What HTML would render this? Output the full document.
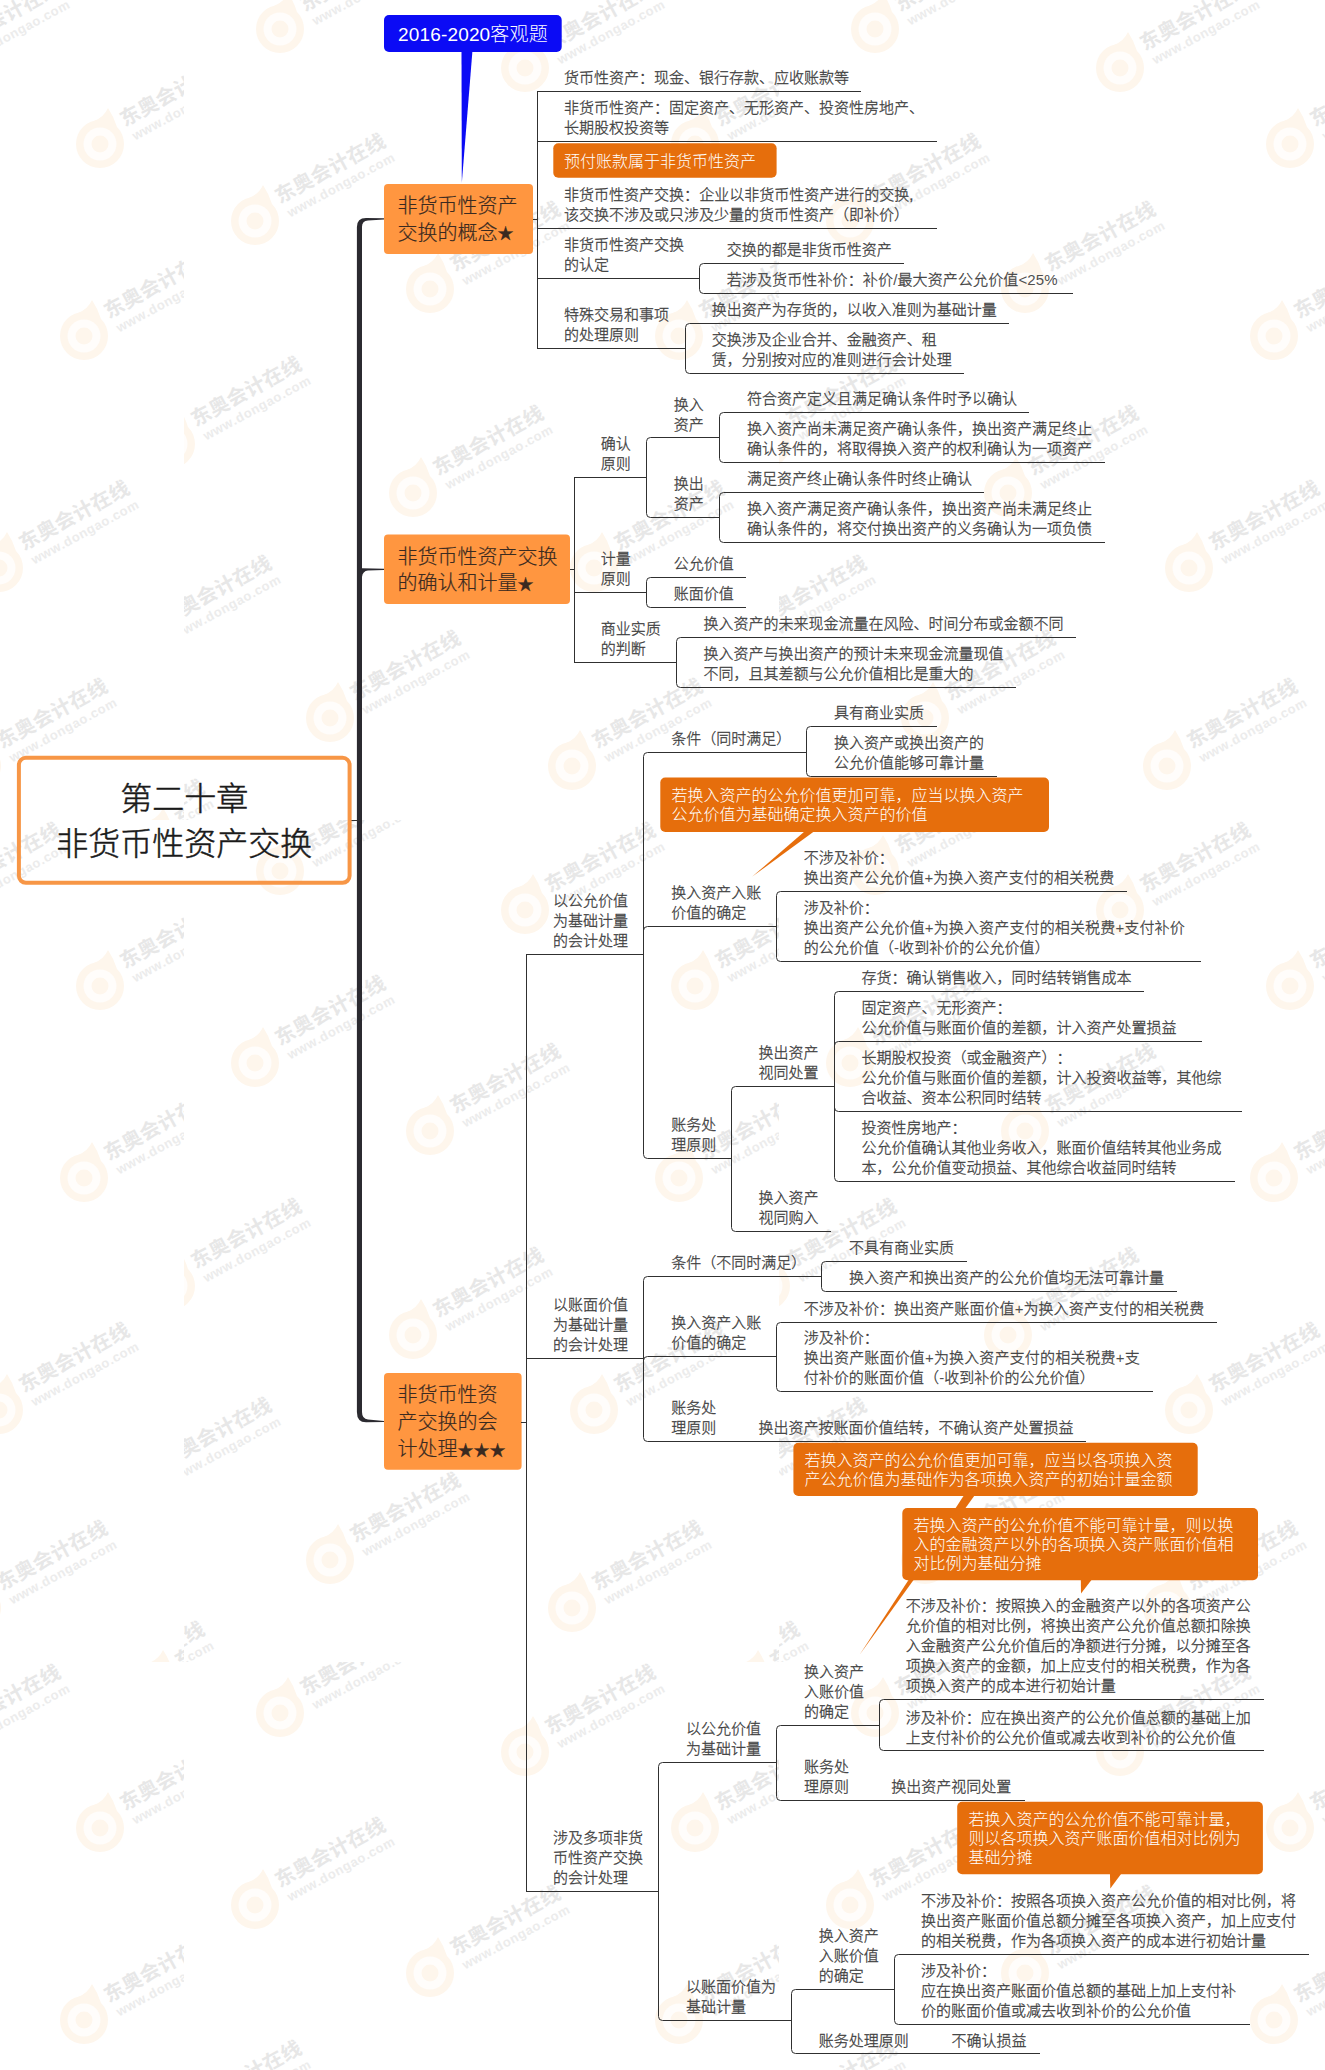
<!DOCTYPE html>
<html lang="zh-CN"><head><meta charset="utf-8"><title>第二十章 非货币性资产交换</title>
<style>
html,body{margin:0;padding:0;background:#fff;}
svg{display:block;font-family:"Liberation Sans", "Noto Sans CJK SC", sans-serif;}
svg text{white-space:pre;font-weight:300;text-spacing-trim:space-all;font-kerning:none;}
.b{stroke:#404040;stroke-width:0.3px;}
.a{stroke:none;fill:#505050;}
.t{stroke:#1a1a1a;stroke-width:0.5px;}
.m{stroke:#3a2a20;stroke-width:0.2px;}
</style></head><body>
<svg width="1325" height="2070" viewBox="0 0 1325 2070" shape-rendering="auto">
<rect width="1325" height="2070" fill="#fff"/>
<g id="wm"><svg x="-411" y="-22" width="595" height="842" viewBox="0 0 595 842" overflow="hidden"><g transform="translate(341,90)"><circle r="24" fill="#fef6ec"/><path d="M-6,-23 Q4,-27 8,-36 Q14,-27 17,-17 Z" fill="#fef6ec"/><circle r="16.5" fill="#fffdfb"/><circle r="8.5" fill="#fef6ec"/><g transform="rotate(-28.5)"><text x="30" y="-3.4" font-size="20" textLength="122" fill="#e7e7e7" style="font-weight:700">东奥会计在线</text><text x="32.5" y="13.8" font-size="13" textLength="120" fill="#ececec" style="font-weight:700">www.dongao.com</text></g></g><g transform="translate(246,311)"><circle r="24" fill="#fef6ec"/><path d="M-6,-23 Q4,-27 8,-36 Q14,-27 17,-17 Z" fill="#fef6ec"/><circle r="16.5" fill="#fffdfb"/><circle r="8.5" fill="#fef6ec"/><g transform="rotate(-28.5)"><text x="30" y="-3.4" font-size="20" textLength="122" fill="#e7e7e7" style="font-weight:700">东奥会计在线</text><text x="32.5" y="13.8" font-size="13" textLength="120" fill="#ececec" style="font-weight:700">www.dongao.com</text></g></g><g transform="translate(229,515)"><circle r="24" fill="#fef6ec"/><path d="M-6,-23 Q4,-27 8,-36 Q14,-27 17,-17 Z" fill="#fef6ec"/><circle r="16.5" fill="#fffdfb"/><circle r="8.5" fill="#fef6ec"/><g transform="rotate(-28.5)"><text x="30" y="-3.4" font-size="20" textLength="122" fill="#e7e7e7" style="font-weight:700">东奥会计在线</text><text x="32.5" y="13.8" font-size="13" textLength="120" fill="#ececec" style="font-weight:700">www.dongao.com</text></g></g><g transform="translate(410,590)"><circle r="24" fill="#fef6ec"/><path d="M-6,-23 Q4,-27 8,-36 Q14,-27 17,-17 Z" fill="#fef6ec"/><circle r="16.5" fill="#fffdfb"/><circle r="8.5" fill="#fef6ec"/><g transform="rotate(-28.5)"><text x="30" y="-3.4" font-size="20" textLength="122" fill="#e7e7e7" style="font-weight:700">东奥会计在线</text><text x="32.5" y="13.8" font-size="13" textLength="120" fill="#ececec" style="font-weight:700">www.dongao.com</text></g></g><g transform="translate(388,788)"><circle r="24" fill="#fef6ec"/><path d="M-6,-23 Q4,-27 8,-36 Q14,-27 17,-17 Z" fill="#fef6ec"/><circle r="16.5" fill="#fffdfb"/><circle r="8.5" fill="#fef6ec"/><g transform="rotate(-28.5)"><text x="30" y="-3.4" font-size="20" textLength="122" fill="#e7e7e7" style="font-weight:700">东奥会计在线</text><text x="32.5" y="13.8" font-size="13" textLength="120" fill="#ececec" style="font-weight:700">www.dongao.com</text></g></g><g transform="translate(511,166)"><circle r="24" fill="#fef6ec"/><path d="M-6,-23 Q4,-27 8,-36 Q14,-27 17,-17 Z" fill="#fef6ec"/><circle r="16.5" fill="#fffdfb"/><circle r="8.5" fill="#fef6ec"/><g transform="rotate(-28.5)"><text x="30" y="-3.4" font-size="20" textLength="122" fill="#e7e7e7" style="font-weight:700">东奥会计在线</text><text x="32.5" y="13.8" font-size="13" textLength="120" fill="#ececec" style="font-weight:700">www.dongao.com</text></g></g><g transform="translate(495,358)"><circle r="24" fill="#fef6ec"/><path d="M-6,-23 Q4,-27 8,-36 Q14,-27 17,-17 Z" fill="#fef6ec"/><circle r="16.5" fill="#fffdfb"/><circle r="8.5" fill="#fef6ec"/><g transform="rotate(-28.5)"><text x="30" y="-3.4" font-size="20" textLength="122" fill="#e7e7e7" style="font-weight:700">东奥会计在线</text><text x="32.5" y="13.8" font-size="13" textLength="120" fill="#ececec" style="font-weight:700">www.dongao.com</text></g></g><g transform="translate(566,866)"><circle r="24" fill="#fef6ec"/><path d="M-6,-23 Q4,-27 8,-36 Q14,-27 17,-17 Z" fill="#fef6ec"/><circle r="16.5" fill="#fffdfb"/><circle r="8.5" fill="#fef6ec"/><g transform="rotate(-28.5)"><text x="30" y="-3.4" font-size="20" textLength="122" fill="#e7e7e7" style="font-weight:700">东奥会计在线</text><text x="32.5" y="13.8" font-size="13" textLength="120" fill="#ececec" style="font-weight:700">www.dongao.com</text></g></g></svg><svg x="-411" y="820" width="595" height="842" viewBox="0 0 595 842" overflow="hidden"><g transform="translate(341,90)"><circle r="24" fill="#fef6ec"/><path d="M-6,-23 Q4,-27 8,-36 Q14,-27 17,-17 Z" fill="#fef6ec"/><circle r="16.5" fill="#fffdfb"/><circle r="8.5" fill="#fef6ec"/><g transform="rotate(-28.5)"><text x="30" y="-3.4" font-size="20" textLength="122" fill="#e7e7e7" style="font-weight:700">东奥会计在线</text><text x="32.5" y="13.8" font-size="13" textLength="120" fill="#ececec" style="font-weight:700">www.dongao.com</text></g></g><g transform="translate(246,311)"><circle r="24" fill="#fef6ec"/><path d="M-6,-23 Q4,-27 8,-36 Q14,-27 17,-17 Z" fill="#fef6ec"/><circle r="16.5" fill="#fffdfb"/><circle r="8.5" fill="#fef6ec"/><g transform="rotate(-28.5)"><text x="30" y="-3.4" font-size="20" textLength="122" fill="#e7e7e7" style="font-weight:700">东奥会计在线</text><text x="32.5" y="13.8" font-size="13" textLength="120" fill="#ececec" style="font-weight:700">www.dongao.com</text></g></g><g transform="translate(229,515)"><circle r="24" fill="#fef6ec"/><path d="M-6,-23 Q4,-27 8,-36 Q14,-27 17,-17 Z" fill="#fef6ec"/><circle r="16.5" fill="#fffdfb"/><circle r="8.5" fill="#fef6ec"/><g transform="rotate(-28.5)"><text x="30" y="-3.4" font-size="20" textLength="122" fill="#e7e7e7" style="font-weight:700">东奥会计在线</text><text x="32.5" y="13.8" font-size="13" textLength="120" fill="#ececec" style="font-weight:700">www.dongao.com</text></g></g><g transform="translate(410,590)"><circle r="24" fill="#fef6ec"/><path d="M-6,-23 Q4,-27 8,-36 Q14,-27 17,-17 Z" fill="#fef6ec"/><circle r="16.5" fill="#fffdfb"/><circle r="8.5" fill="#fef6ec"/><g transform="rotate(-28.5)"><text x="30" y="-3.4" font-size="20" textLength="122" fill="#e7e7e7" style="font-weight:700">东奥会计在线</text><text x="32.5" y="13.8" font-size="13" textLength="120" fill="#ececec" style="font-weight:700">www.dongao.com</text></g></g><g transform="translate(388,788)"><circle r="24" fill="#fef6ec"/><path d="M-6,-23 Q4,-27 8,-36 Q14,-27 17,-17 Z" fill="#fef6ec"/><circle r="16.5" fill="#fffdfb"/><circle r="8.5" fill="#fef6ec"/><g transform="rotate(-28.5)"><text x="30" y="-3.4" font-size="20" textLength="122" fill="#e7e7e7" style="font-weight:700">东奥会计在线</text><text x="32.5" y="13.8" font-size="13" textLength="120" fill="#ececec" style="font-weight:700">www.dongao.com</text></g></g><g transform="translate(511,166)"><circle r="24" fill="#fef6ec"/><path d="M-6,-23 Q4,-27 8,-36 Q14,-27 17,-17 Z" fill="#fef6ec"/><circle r="16.5" fill="#fffdfb"/><circle r="8.5" fill="#fef6ec"/><g transform="rotate(-28.5)"><text x="30" y="-3.4" font-size="20" textLength="122" fill="#e7e7e7" style="font-weight:700">东奥会计在线</text><text x="32.5" y="13.8" font-size="13" textLength="120" fill="#ececec" style="font-weight:700">www.dongao.com</text></g></g><g transform="translate(495,358)"><circle r="24" fill="#fef6ec"/><path d="M-6,-23 Q4,-27 8,-36 Q14,-27 17,-17 Z" fill="#fef6ec"/><circle r="16.5" fill="#fffdfb"/><circle r="8.5" fill="#fef6ec"/><g transform="rotate(-28.5)"><text x="30" y="-3.4" font-size="20" textLength="122" fill="#e7e7e7" style="font-weight:700">东奥会计在线</text><text x="32.5" y="13.8" font-size="13" textLength="120" fill="#ececec" style="font-weight:700">www.dongao.com</text></g></g><g transform="translate(566,866)"><circle r="24" fill="#fef6ec"/><path d="M-6,-23 Q4,-27 8,-36 Q14,-27 17,-17 Z" fill="#fef6ec"/><circle r="16.5" fill="#fffdfb"/><circle r="8.5" fill="#fef6ec"/><g transform="rotate(-28.5)"><text x="30" y="-3.4" font-size="20" textLength="122" fill="#e7e7e7" style="font-weight:700">东奥会计在线</text><text x="32.5" y="13.8" font-size="13" textLength="120" fill="#ececec" style="font-weight:700">www.dongao.com</text></g></g></svg><svg x="-411" y="1662" width="595" height="842" viewBox="0 0 595 842" overflow="hidden"><g transform="translate(341,90)"><circle r="24" fill="#fef6ec"/><path d="M-6,-23 Q4,-27 8,-36 Q14,-27 17,-17 Z" fill="#fef6ec"/><circle r="16.5" fill="#fffdfb"/><circle r="8.5" fill="#fef6ec"/><g transform="rotate(-28.5)"><text x="30" y="-3.4" font-size="20" textLength="122" fill="#e7e7e7" style="font-weight:700">东奥会计在线</text><text x="32.5" y="13.8" font-size="13" textLength="120" fill="#ececec" style="font-weight:700">www.dongao.com</text></g></g><g transform="translate(246,311)"><circle r="24" fill="#fef6ec"/><path d="M-6,-23 Q4,-27 8,-36 Q14,-27 17,-17 Z" fill="#fef6ec"/><circle r="16.5" fill="#fffdfb"/><circle r="8.5" fill="#fef6ec"/><g transform="rotate(-28.5)"><text x="30" y="-3.4" font-size="20" textLength="122" fill="#e7e7e7" style="font-weight:700">东奥会计在线</text><text x="32.5" y="13.8" font-size="13" textLength="120" fill="#ececec" style="font-weight:700">www.dongao.com</text></g></g><g transform="translate(229,515)"><circle r="24" fill="#fef6ec"/><path d="M-6,-23 Q4,-27 8,-36 Q14,-27 17,-17 Z" fill="#fef6ec"/><circle r="16.5" fill="#fffdfb"/><circle r="8.5" fill="#fef6ec"/><g transform="rotate(-28.5)"><text x="30" y="-3.4" font-size="20" textLength="122" fill="#e7e7e7" style="font-weight:700">东奥会计在线</text><text x="32.5" y="13.8" font-size="13" textLength="120" fill="#ececec" style="font-weight:700">www.dongao.com</text></g></g><g transform="translate(511,166)"><circle r="24" fill="#fef6ec"/><path d="M-6,-23 Q4,-27 8,-36 Q14,-27 17,-17 Z" fill="#fef6ec"/><circle r="16.5" fill="#fffdfb"/><circle r="8.5" fill="#fef6ec"/><g transform="rotate(-28.5)"><text x="30" y="-3.4" font-size="20" textLength="122" fill="#e7e7e7" style="font-weight:700">东奥会计在线</text><text x="32.5" y="13.8" font-size="13" textLength="120" fill="#ececec" style="font-weight:700">www.dongao.com</text></g></g><g transform="translate(495,358)"><circle r="24" fill="#fef6ec"/><path d="M-6,-23 Q4,-27 8,-36 Q14,-27 17,-17 Z" fill="#fef6ec"/><circle r="16.5" fill="#fffdfb"/><circle r="8.5" fill="#fef6ec"/><g transform="rotate(-28.5)"><text x="30" y="-3.4" font-size="20" textLength="122" fill="#e7e7e7" style="font-weight:700">东奥会计在线</text><text x="32.5" y="13.8" font-size="13" textLength="120" fill="#ececec" style="font-weight:700">www.dongao.com</text></g></g></svg><svg x="184" y="-22" width="595" height="842" viewBox="0 0 595 842" overflow="hidden"><g transform="translate(96,51)"><circle r="24" fill="#fef6ec"/><path d="M-6,-23 Q4,-27 8,-36 Q14,-27 17,-17 Z" fill="#fef6ec"/><circle r="16.5" fill="#fffdfb"/><circle r="8.5" fill="#fef6ec"/><g transform="rotate(-28.5)"><text x="30" y="-3.4" font-size="20" textLength="122" fill="#e7e7e7" style="font-weight:700">东奥会计在线</text><text x="32.5" y="13.8" font-size="13" textLength="120" fill="#ececec" style="font-weight:700">www.dongao.com</text></g></g><g transform="translate(341,90)"><circle r="24" fill="#fef6ec"/><path d="M-6,-23 Q4,-27 8,-36 Q14,-27 17,-17 Z" fill="#fef6ec"/><circle r="16.5" fill="#fffdfb"/><circle r="8.5" fill="#fef6ec"/><g transform="rotate(-28.5)"><text x="30" y="-3.4" font-size="20" textLength="122" fill="#e7e7e7" style="font-weight:700">东奥会计在线</text><text x="32.5" y="13.8" font-size="13" textLength="120" fill="#ececec" style="font-weight:700">www.dongao.com</text></g></g><g transform="translate(71,243)"><circle r="24" fill="#fef6ec"/><path d="M-6,-23 Q4,-27 8,-36 Q14,-27 17,-17 Z" fill="#fef6ec"/><circle r="16.5" fill="#fffdfb"/><circle r="8.5" fill="#fef6ec"/><g transform="rotate(-28.5)"><text x="30" y="-3.4" font-size="20" textLength="122" fill="#e7e7e7" style="font-weight:700">东奥会计在线</text><text x="32.5" y="13.8" font-size="13" textLength="120" fill="#ececec" style="font-weight:700">www.dongao.com</text></g></g><g transform="translate(246,311)"><circle r="24" fill="#fef6ec"/><path d="M-6,-23 Q4,-27 8,-36 Q14,-27 17,-17 Z" fill="#fef6ec"/><circle r="16.5" fill="#fffdfb"/><circle r="8.5" fill="#fef6ec"/><g transform="rotate(-28.5)"><text x="30" y="-3.4" font-size="20" textLength="122" fill="#e7e7e7" style="font-weight:700">东奥会计在线</text><text x="32.5" y="13.8" font-size="13" textLength="120" fill="#ececec" style="font-weight:700">www.dongao.com</text></g></g><g transform="translate(-13,466)"><circle r="24" fill="#fef6ec"/><path d="M-6,-23 Q4,-27 8,-36 Q14,-27 17,-17 Z" fill="#fef6ec"/><circle r="16.5" fill="#fffdfb"/><circle r="8.5" fill="#fef6ec"/><g transform="rotate(-28.5)"><text x="30" y="-3.4" font-size="20" textLength="122" fill="#e7e7e7" style="font-weight:700">东奥会计在线</text><text x="32.5" y="13.8" font-size="13" textLength="120" fill="#ececec" style="font-weight:700">www.dongao.com</text></g></g><g transform="translate(229,515)"><circle r="24" fill="#fef6ec"/><path d="M-6,-23 Q4,-27 8,-36 Q14,-27 17,-17 Z" fill="#fef6ec"/><circle r="16.5" fill="#fffdfb"/><circle r="8.5" fill="#fef6ec"/><g transform="rotate(-28.5)"><text x="30" y="-3.4" font-size="20" textLength="122" fill="#e7e7e7" style="font-weight:700">东奥会计在线</text><text x="32.5" y="13.8" font-size="13" textLength="120" fill="#ececec" style="font-weight:700">www.dongao.com</text></g></g><g transform="translate(410,590)"><circle r="24" fill="#fef6ec"/><path d="M-6,-23 Q4,-27 8,-36 Q14,-27 17,-17 Z" fill="#fef6ec"/><circle r="16.5" fill="#fffdfb"/><circle r="8.5" fill="#fef6ec"/><g transform="rotate(-28.5)"><text x="30" y="-3.4" font-size="20" textLength="122" fill="#e7e7e7" style="font-weight:700">东奥会计在线</text><text x="32.5" y="13.8" font-size="13" textLength="120" fill="#ececec" style="font-weight:700">www.dongao.com</text></g></g><g transform="translate(-43,665)"><circle r="24" fill="#fef6ec"/><path d="M-6,-23 Q4,-27 8,-36 Q14,-27 17,-17 Z" fill="#fef6ec"/><circle r="16.5" fill="#fffdfb"/><circle r="8.5" fill="#fef6ec"/><g transform="rotate(-28.5)"><text x="30" y="-3.4" font-size="20" textLength="122" fill="#e7e7e7" style="font-weight:700">东奥会计在线</text><text x="32.5" y="13.8" font-size="13" textLength="120" fill="#ececec" style="font-weight:700">www.dongao.com</text></g></g><g transform="translate(146,740)"><circle r="24" fill="#fef6ec"/><path d="M-6,-23 Q4,-27 8,-36 Q14,-27 17,-17 Z" fill="#fef6ec"/><circle r="16.5" fill="#fffdfb"/><circle r="8.5" fill="#fef6ec"/><g transform="rotate(-28.5)"><text x="30" y="-3.4" font-size="20" textLength="122" fill="#e7e7e7" style="font-weight:700">东奥会计在线</text><text x="32.5" y="13.8" font-size="13" textLength="120" fill="#ececec" style="font-weight:700">www.dongao.com</text></g></g><g transform="translate(388,788)"><circle r="24" fill="#fef6ec"/><path d="M-6,-23 Q4,-27 8,-36 Q14,-27 17,-17 Z" fill="#fef6ec"/><circle r="16.5" fill="#fffdfb"/><circle r="8.5" fill="#fef6ec"/><g transform="rotate(-28.5)"><text x="30" y="-3.4" font-size="20" textLength="122" fill="#e7e7e7" style="font-weight:700">东奥会计在线</text><text x="32.5" y="13.8" font-size="13" textLength="120" fill="#ececec" style="font-weight:700">www.dongao.com</text></g></g><g transform="translate(511,166)"><circle r="24" fill="#fef6ec"/><path d="M-6,-23 Q4,-27 8,-36 Q14,-27 17,-17 Z" fill="#fef6ec"/><circle r="16.5" fill="#fffdfb"/><circle r="8.5" fill="#fef6ec"/><g transform="rotate(-28.5)"><text x="30" y="-3.4" font-size="20" textLength="122" fill="#e7e7e7" style="font-weight:700">东奥会计在线</text><text x="32.5" y="13.8" font-size="13" textLength="120" fill="#ececec" style="font-weight:700">www.dongao.com</text></g></g><g transform="translate(495,358)"><circle r="24" fill="#fef6ec"/><path d="M-6,-23 Q4,-27 8,-36 Q14,-27 17,-17 Z" fill="#fef6ec"/><circle r="16.5" fill="#fffdfb"/><circle r="8.5" fill="#fef6ec"/><g transform="rotate(-28.5)"><text x="30" y="-3.4" font-size="20" textLength="122" fill="#e7e7e7" style="font-weight:700">东奥会计在线</text><text x="32.5" y="13.8" font-size="13" textLength="120" fill="#ececec" style="font-weight:700">www.dongao.com</text></g></g><g transform="translate(-110,889)"><circle r="24" fill="#fef6ec"/><path d="M-6,-23 Q4,-27 8,-36 Q14,-27 17,-17 Z" fill="#fef6ec"/><circle r="16.5" fill="#fffdfb"/><circle r="8.5" fill="#fef6ec"/><g transform="rotate(-28.5)"><text x="30" y="-3.4" font-size="20" textLength="122" fill="#e7e7e7" style="font-weight:700">东奥会计在线</text><text x="32.5" y="13.8" font-size="13" textLength="120" fill="#ececec" style="font-weight:700">www.dongao.com</text></g></g><g transform="translate(566,866)"><circle r="24" fill="#fef6ec"/><path d="M-6,-23 Q4,-27 8,-36 Q14,-27 17,-17 Z" fill="#fef6ec"/><circle r="16.5" fill="#fffdfb"/><circle r="8.5" fill="#fef6ec"/><g transform="rotate(-28.5)"><text x="30" y="-3.4" font-size="20" textLength="122" fill="#e7e7e7" style="font-weight:700">东奥会计在线</text><text x="32.5" y="13.8" font-size="13" textLength="120" fill="#ececec" style="font-weight:700">www.dongao.com</text></g></g></svg><svg x="184" y="820" width="595" height="842" viewBox="0 0 595 842" overflow="hidden"><g transform="translate(96,51)"><circle r="24" fill="#fef6ec"/><path d="M-6,-23 Q4,-27 8,-36 Q14,-27 17,-17 Z" fill="#fef6ec"/><circle r="16.5" fill="#fffdfb"/><circle r="8.5" fill="#fef6ec"/><g transform="rotate(-28.5)"><text x="30" y="-3.4" font-size="20" textLength="122" fill="#e7e7e7" style="font-weight:700">东奥会计在线</text><text x="32.5" y="13.8" font-size="13" textLength="120" fill="#ececec" style="font-weight:700">www.dongao.com</text></g></g><g transform="translate(341,90)"><circle r="24" fill="#fef6ec"/><path d="M-6,-23 Q4,-27 8,-36 Q14,-27 17,-17 Z" fill="#fef6ec"/><circle r="16.5" fill="#fffdfb"/><circle r="8.5" fill="#fef6ec"/><g transform="rotate(-28.5)"><text x="30" y="-3.4" font-size="20" textLength="122" fill="#e7e7e7" style="font-weight:700">东奥会计在线</text><text x="32.5" y="13.8" font-size="13" textLength="120" fill="#ececec" style="font-weight:700">www.dongao.com</text></g></g><g transform="translate(71,243)"><circle r="24" fill="#fef6ec"/><path d="M-6,-23 Q4,-27 8,-36 Q14,-27 17,-17 Z" fill="#fef6ec"/><circle r="16.5" fill="#fffdfb"/><circle r="8.5" fill="#fef6ec"/><g transform="rotate(-28.5)"><text x="30" y="-3.4" font-size="20" textLength="122" fill="#e7e7e7" style="font-weight:700">东奥会计在线</text><text x="32.5" y="13.8" font-size="13" textLength="120" fill="#ececec" style="font-weight:700">www.dongao.com</text></g></g><g transform="translate(246,311)"><circle r="24" fill="#fef6ec"/><path d="M-6,-23 Q4,-27 8,-36 Q14,-27 17,-17 Z" fill="#fef6ec"/><circle r="16.5" fill="#fffdfb"/><circle r="8.5" fill="#fef6ec"/><g transform="rotate(-28.5)"><text x="30" y="-3.4" font-size="20" textLength="122" fill="#e7e7e7" style="font-weight:700">东奥会计在线</text><text x="32.5" y="13.8" font-size="13" textLength="120" fill="#ececec" style="font-weight:700">www.dongao.com</text></g></g><g transform="translate(-13,466)"><circle r="24" fill="#fef6ec"/><path d="M-6,-23 Q4,-27 8,-36 Q14,-27 17,-17 Z" fill="#fef6ec"/><circle r="16.5" fill="#fffdfb"/><circle r="8.5" fill="#fef6ec"/><g transform="rotate(-28.5)"><text x="30" y="-3.4" font-size="20" textLength="122" fill="#e7e7e7" style="font-weight:700">东奥会计在线</text><text x="32.5" y="13.8" font-size="13" textLength="120" fill="#ececec" style="font-weight:700">www.dongao.com</text></g></g><g transform="translate(229,515)"><circle r="24" fill="#fef6ec"/><path d="M-6,-23 Q4,-27 8,-36 Q14,-27 17,-17 Z" fill="#fef6ec"/><circle r="16.5" fill="#fffdfb"/><circle r="8.5" fill="#fef6ec"/><g transform="rotate(-28.5)"><text x="30" y="-3.4" font-size="20" textLength="122" fill="#e7e7e7" style="font-weight:700">东奥会计在线</text><text x="32.5" y="13.8" font-size="13" textLength="120" fill="#ececec" style="font-weight:700">www.dongao.com</text></g></g><g transform="translate(410,590)"><circle r="24" fill="#fef6ec"/><path d="M-6,-23 Q4,-27 8,-36 Q14,-27 17,-17 Z" fill="#fef6ec"/><circle r="16.5" fill="#fffdfb"/><circle r="8.5" fill="#fef6ec"/><g transform="rotate(-28.5)"><text x="30" y="-3.4" font-size="20" textLength="122" fill="#e7e7e7" style="font-weight:700">东奥会计在线</text><text x="32.5" y="13.8" font-size="13" textLength="120" fill="#ececec" style="font-weight:700">www.dongao.com</text></g></g><g transform="translate(-43,665)"><circle r="24" fill="#fef6ec"/><path d="M-6,-23 Q4,-27 8,-36 Q14,-27 17,-17 Z" fill="#fef6ec"/><circle r="16.5" fill="#fffdfb"/><circle r="8.5" fill="#fef6ec"/><g transform="rotate(-28.5)"><text x="30" y="-3.4" font-size="20" textLength="122" fill="#e7e7e7" style="font-weight:700">东奥会计在线</text><text x="32.5" y="13.8" font-size="13" textLength="120" fill="#ececec" style="font-weight:700">www.dongao.com</text></g></g><g transform="translate(146,740)"><circle r="24" fill="#fef6ec"/><path d="M-6,-23 Q4,-27 8,-36 Q14,-27 17,-17 Z" fill="#fef6ec"/><circle r="16.5" fill="#fffdfb"/><circle r="8.5" fill="#fef6ec"/><g transform="rotate(-28.5)"><text x="30" y="-3.4" font-size="20" textLength="122" fill="#e7e7e7" style="font-weight:700">东奥会计在线</text><text x="32.5" y="13.8" font-size="13" textLength="120" fill="#ececec" style="font-weight:700">www.dongao.com</text></g></g><g transform="translate(388,788)"><circle r="24" fill="#fef6ec"/><path d="M-6,-23 Q4,-27 8,-36 Q14,-27 17,-17 Z" fill="#fef6ec"/><circle r="16.5" fill="#fffdfb"/><circle r="8.5" fill="#fef6ec"/><g transform="rotate(-28.5)"><text x="30" y="-3.4" font-size="20" textLength="122" fill="#e7e7e7" style="font-weight:700">东奥会计在线</text><text x="32.5" y="13.8" font-size="13" textLength="120" fill="#ececec" style="font-weight:700">www.dongao.com</text></g></g><g transform="translate(511,166)"><circle r="24" fill="#fef6ec"/><path d="M-6,-23 Q4,-27 8,-36 Q14,-27 17,-17 Z" fill="#fef6ec"/><circle r="16.5" fill="#fffdfb"/><circle r="8.5" fill="#fef6ec"/><g transform="rotate(-28.5)"><text x="30" y="-3.4" font-size="20" textLength="122" fill="#e7e7e7" style="font-weight:700">东奥会计在线</text><text x="32.5" y="13.8" font-size="13" textLength="120" fill="#ececec" style="font-weight:700">www.dongao.com</text></g></g><g transform="translate(495,358)"><circle r="24" fill="#fef6ec"/><path d="M-6,-23 Q4,-27 8,-36 Q14,-27 17,-17 Z" fill="#fef6ec"/><circle r="16.5" fill="#fffdfb"/><circle r="8.5" fill="#fef6ec"/><g transform="rotate(-28.5)"><text x="30" y="-3.4" font-size="20" textLength="122" fill="#e7e7e7" style="font-weight:700">东奥会计在线</text><text x="32.5" y="13.8" font-size="13" textLength="120" fill="#ececec" style="font-weight:700">www.dongao.com</text></g></g><g transform="translate(-110,889)"><circle r="24" fill="#fef6ec"/><path d="M-6,-23 Q4,-27 8,-36 Q14,-27 17,-17 Z" fill="#fef6ec"/><circle r="16.5" fill="#fffdfb"/><circle r="8.5" fill="#fef6ec"/><g transform="rotate(-28.5)"><text x="30" y="-3.4" font-size="20" textLength="122" fill="#e7e7e7" style="font-weight:700">东奥会计在线</text><text x="32.5" y="13.8" font-size="13" textLength="120" fill="#ececec" style="font-weight:700">www.dongao.com</text></g></g><g transform="translate(566,866)"><circle r="24" fill="#fef6ec"/><path d="M-6,-23 Q4,-27 8,-36 Q14,-27 17,-17 Z" fill="#fef6ec"/><circle r="16.5" fill="#fffdfb"/><circle r="8.5" fill="#fef6ec"/><g transform="rotate(-28.5)"><text x="30" y="-3.4" font-size="20" textLength="122" fill="#e7e7e7" style="font-weight:700">东奥会计在线</text><text x="32.5" y="13.8" font-size="13" textLength="120" fill="#ececec" style="font-weight:700">www.dongao.com</text></g></g></svg><svg x="184" y="1662" width="595" height="842" viewBox="0 0 595 842" overflow="hidden"><g transform="translate(96,51)"><circle r="24" fill="#fef6ec"/><path d="M-6,-23 Q4,-27 8,-36 Q14,-27 17,-17 Z" fill="#fef6ec"/><circle r="16.5" fill="#fffdfb"/><circle r="8.5" fill="#fef6ec"/><g transform="rotate(-28.5)"><text x="30" y="-3.4" font-size="20" textLength="122" fill="#e7e7e7" style="font-weight:700">东奥会计在线</text><text x="32.5" y="13.8" font-size="13" textLength="120" fill="#ececec" style="font-weight:700">www.dongao.com</text></g></g><g transform="translate(341,90)"><circle r="24" fill="#fef6ec"/><path d="M-6,-23 Q4,-27 8,-36 Q14,-27 17,-17 Z" fill="#fef6ec"/><circle r="16.5" fill="#fffdfb"/><circle r="8.5" fill="#fef6ec"/><g transform="rotate(-28.5)"><text x="30" y="-3.4" font-size="20" textLength="122" fill="#e7e7e7" style="font-weight:700">东奥会计在线</text><text x="32.5" y="13.8" font-size="13" textLength="120" fill="#ececec" style="font-weight:700">www.dongao.com</text></g></g><g transform="translate(71,243)"><circle r="24" fill="#fef6ec"/><path d="M-6,-23 Q4,-27 8,-36 Q14,-27 17,-17 Z" fill="#fef6ec"/><circle r="16.5" fill="#fffdfb"/><circle r="8.5" fill="#fef6ec"/><g transform="rotate(-28.5)"><text x="30" y="-3.4" font-size="20" textLength="122" fill="#e7e7e7" style="font-weight:700">东奥会计在线</text><text x="32.5" y="13.8" font-size="13" textLength="120" fill="#ececec" style="font-weight:700">www.dongao.com</text></g></g><g transform="translate(246,311)"><circle r="24" fill="#fef6ec"/><path d="M-6,-23 Q4,-27 8,-36 Q14,-27 17,-17 Z" fill="#fef6ec"/><circle r="16.5" fill="#fffdfb"/><circle r="8.5" fill="#fef6ec"/><g transform="rotate(-28.5)"><text x="30" y="-3.4" font-size="20" textLength="122" fill="#e7e7e7" style="font-weight:700">东奥会计在线</text><text x="32.5" y="13.8" font-size="13" textLength="120" fill="#ececec" style="font-weight:700">www.dongao.com</text></g></g><g transform="translate(-13,466)"><circle r="24" fill="#fef6ec"/><path d="M-6,-23 Q4,-27 8,-36 Q14,-27 17,-17 Z" fill="#fef6ec"/><circle r="16.5" fill="#fffdfb"/><circle r="8.5" fill="#fef6ec"/><g transform="rotate(-28.5)"><text x="30" y="-3.4" font-size="20" textLength="122" fill="#e7e7e7" style="font-weight:700">东奥会计在线</text><text x="32.5" y="13.8" font-size="13" textLength="120" fill="#ececec" style="font-weight:700">www.dongao.com</text></g></g><g transform="translate(229,515)"><circle r="24" fill="#fef6ec"/><path d="M-6,-23 Q4,-27 8,-36 Q14,-27 17,-17 Z" fill="#fef6ec"/><circle r="16.5" fill="#fffdfb"/><circle r="8.5" fill="#fef6ec"/><g transform="rotate(-28.5)"><text x="30" y="-3.4" font-size="20" textLength="122" fill="#e7e7e7" style="font-weight:700">东奥会计在线</text><text x="32.5" y="13.8" font-size="13" textLength="120" fill="#ececec" style="font-weight:700">www.dongao.com</text></g></g><g transform="translate(511,166)"><circle r="24" fill="#fef6ec"/><path d="M-6,-23 Q4,-27 8,-36 Q14,-27 17,-17 Z" fill="#fef6ec"/><circle r="16.5" fill="#fffdfb"/><circle r="8.5" fill="#fef6ec"/><g transform="rotate(-28.5)"><text x="30" y="-3.4" font-size="20" textLength="122" fill="#e7e7e7" style="font-weight:700">东奥会计在线</text><text x="32.5" y="13.8" font-size="13" textLength="120" fill="#ececec" style="font-weight:700">www.dongao.com</text></g></g><g transform="translate(495,358)"><circle r="24" fill="#fef6ec"/><path d="M-6,-23 Q4,-27 8,-36 Q14,-27 17,-17 Z" fill="#fef6ec"/><circle r="16.5" fill="#fffdfb"/><circle r="8.5" fill="#fef6ec"/><g transform="rotate(-28.5)"><text x="30" y="-3.4" font-size="20" textLength="122" fill="#e7e7e7" style="font-weight:700">东奥会计在线</text><text x="32.5" y="13.8" font-size="13" textLength="120" fill="#ececec" style="font-weight:700">www.dongao.com</text></g></g></svg><svg x="779" y="-22" width="595" height="842" viewBox="0 0 595 842" overflow="hidden"><g transform="translate(96,51)"><circle r="24" fill="#fef6ec"/><path d="M-6,-23 Q4,-27 8,-36 Q14,-27 17,-17 Z" fill="#fef6ec"/><circle r="16.5" fill="#fffdfb"/><circle r="8.5" fill="#fef6ec"/><g transform="rotate(-28.5)"><text x="30" y="-3.4" font-size="20" textLength="122" fill="#e7e7e7" style="font-weight:700">东奥会计在线</text><text x="32.5" y="13.8" font-size="13" textLength="120" fill="#ececec" style="font-weight:700">www.dongao.com</text></g></g><g transform="translate(341,90)"><circle r="24" fill="#fef6ec"/><path d="M-6,-23 Q4,-27 8,-36 Q14,-27 17,-17 Z" fill="#fef6ec"/><circle r="16.5" fill="#fffdfb"/><circle r="8.5" fill="#fef6ec"/><g transform="rotate(-28.5)"><text x="30" y="-3.4" font-size="20" textLength="122" fill="#e7e7e7" style="font-weight:700">东奥会计在线</text><text x="32.5" y="13.8" font-size="13" textLength="120" fill="#ececec" style="font-weight:700">www.dongao.com</text></g></g><g transform="translate(71,243)"><circle r="24" fill="#fef6ec"/><path d="M-6,-23 Q4,-27 8,-36 Q14,-27 17,-17 Z" fill="#fef6ec"/><circle r="16.5" fill="#fffdfb"/><circle r="8.5" fill="#fef6ec"/><g transform="rotate(-28.5)"><text x="30" y="-3.4" font-size="20" textLength="122" fill="#e7e7e7" style="font-weight:700">东奥会计在线</text><text x="32.5" y="13.8" font-size="13" textLength="120" fill="#ececec" style="font-weight:700">www.dongao.com</text></g></g><g transform="translate(246,311)"><circle r="24" fill="#fef6ec"/><path d="M-6,-23 Q4,-27 8,-36 Q14,-27 17,-17 Z" fill="#fef6ec"/><circle r="16.5" fill="#fffdfb"/><circle r="8.5" fill="#fef6ec"/><g transform="rotate(-28.5)"><text x="30" y="-3.4" font-size="20" textLength="122" fill="#e7e7e7" style="font-weight:700">东奥会计在线</text><text x="32.5" y="13.8" font-size="13" textLength="120" fill="#ececec" style="font-weight:700">www.dongao.com</text></g></g><g transform="translate(-13,466)"><circle r="24" fill="#fef6ec"/><path d="M-6,-23 Q4,-27 8,-36 Q14,-27 17,-17 Z" fill="#fef6ec"/><circle r="16.5" fill="#fffdfb"/><circle r="8.5" fill="#fef6ec"/><g transform="rotate(-28.5)"><text x="30" y="-3.4" font-size="20" textLength="122" fill="#e7e7e7" style="font-weight:700">东奥会计在线</text><text x="32.5" y="13.8" font-size="13" textLength="120" fill="#ececec" style="font-weight:700">www.dongao.com</text></g></g><g transform="translate(229,515)"><circle r="24" fill="#fef6ec"/><path d="M-6,-23 Q4,-27 8,-36 Q14,-27 17,-17 Z" fill="#fef6ec"/><circle r="16.5" fill="#fffdfb"/><circle r="8.5" fill="#fef6ec"/><g transform="rotate(-28.5)"><text x="30" y="-3.4" font-size="20" textLength="122" fill="#e7e7e7" style="font-weight:700">东奥会计在线</text><text x="32.5" y="13.8" font-size="13" textLength="120" fill="#ececec" style="font-weight:700">www.dongao.com</text></g></g><g transform="translate(410,590)"><circle r="24" fill="#fef6ec"/><path d="M-6,-23 Q4,-27 8,-36 Q14,-27 17,-17 Z" fill="#fef6ec"/><circle r="16.5" fill="#fffdfb"/><circle r="8.5" fill="#fef6ec"/><g transform="rotate(-28.5)"><text x="30" y="-3.4" font-size="20" textLength="122" fill="#e7e7e7" style="font-weight:700">东奥会计在线</text><text x="32.5" y="13.8" font-size="13" textLength="120" fill="#ececec" style="font-weight:700">www.dongao.com</text></g></g><g transform="translate(-43,665)"><circle r="24" fill="#fef6ec"/><path d="M-6,-23 Q4,-27 8,-36 Q14,-27 17,-17 Z" fill="#fef6ec"/><circle r="16.5" fill="#fffdfb"/><circle r="8.5" fill="#fef6ec"/><g transform="rotate(-28.5)"><text x="30" y="-3.4" font-size="20" textLength="122" fill="#e7e7e7" style="font-weight:700">东奥会计在线</text><text x="32.5" y="13.8" font-size="13" textLength="120" fill="#ececec" style="font-weight:700">www.dongao.com</text></g></g><g transform="translate(146,740)"><circle r="24" fill="#fef6ec"/><path d="M-6,-23 Q4,-27 8,-36 Q14,-27 17,-17 Z" fill="#fef6ec"/><circle r="16.5" fill="#fffdfb"/><circle r="8.5" fill="#fef6ec"/><g transform="rotate(-28.5)"><text x="30" y="-3.4" font-size="20" textLength="122" fill="#e7e7e7" style="font-weight:700">东奥会计在线</text><text x="32.5" y="13.8" font-size="13" textLength="120" fill="#ececec" style="font-weight:700">www.dongao.com</text></g></g><g transform="translate(388,788)"><circle r="24" fill="#fef6ec"/><path d="M-6,-23 Q4,-27 8,-36 Q14,-27 17,-17 Z" fill="#fef6ec"/><circle r="16.5" fill="#fffdfb"/><circle r="8.5" fill="#fef6ec"/><g transform="rotate(-28.5)"><text x="30" y="-3.4" font-size="20" textLength="122" fill="#e7e7e7" style="font-weight:700">东奥会计在线</text><text x="32.5" y="13.8" font-size="13" textLength="120" fill="#ececec" style="font-weight:700">www.dongao.com</text></g></g><g transform="translate(511,166)"><circle r="24" fill="#fef6ec"/><path d="M-6,-23 Q4,-27 8,-36 Q14,-27 17,-17 Z" fill="#fef6ec"/><circle r="16.5" fill="#fffdfb"/><circle r="8.5" fill="#fef6ec"/><g transform="rotate(-28.5)"><text x="30" y="-3.4" font-size="20" textLength="122" fill="#e7e7e7" style="font-weight:700">东奥会计在线</text><text x="32.5" y="13.8" font-size="13" textLength="120" fill="#ececec" style="font-weight:700">www.dongao.com</text></g></g><g transform="translate(495,358)"><circle r="24" fill="#fef6ec"/><path d="M-6,-23 Q4,-27 8,-36 Q14,-27 17,-17 Z" fill="#fef6ec"/><circle r="16.5" fill="#fffdfb"/><circle r="8.5" fill="#fef6ec"/><g transform="rotate(-28.5)"><text x="30" y="-3.4" font-size="20" textLength="122" fill="#e7e7e7" style="font-weight:700">东奥会计在线</text><text x="32.5" y="13.8" font-size="13" textLength="120" fill="#ececec" style="font-weight:700">www.dongao.com</text></g></g><g transform="translate(-110,889)"><circle r="24" fill="#fef6ec"/><path d="M-6,-23 Q4,-27 8,-36 Q14,-27 17,-17 Z" fill="#fef6ec"/><circle r="16.5" fill="#fffdfb"/><circle r="8.5" fill="#fef6ec"/><g transform="rotate(-28.5)"><text x="30" y="-3.4" font-size="20" textLength="122" fill="#e7e7e7" style="font-weight:700">东奥会计在线</text><text x="32.5" y="13.8" font-size="13" textLength="120" fill="#ececec" style="font-weight:700">www.dongao.com</text></g></g><g transform="translate(566,866)"><circle r="24" fill="#fef6ec"/><path d="M-6,-23 Q4,-27 8,-36 Q14,-27 17,-17 Z" fill="#fef6ec"/><circle r="16.5" fill="#fffdfb"/><circle r="8.5" fill="#fef6ec"/><g transform="rotate(-28.5)"><text x="30" y="-3.4" font-size="20" textLength="122" fill="#e7e7e7" style="font-weight:700">东奥会计在线</text><text x="32.5" y="13.8" font-size="13" textLength="120" fill="#ececec" style="font-weight:700">www.dongao.com</text></g></g></svg><svg x="779" y="820" width="595" height="842" viewBox="0 0 595 842" overflow="hidden"><g transform="translate(96,51)"><circle r="24" fill="#fef6ec"/><path d="M-6,-23 Q4,-27 8,-36 Q14,-27 17,-17 Z" fill="#fef6ec"/><circle r="16.5" fill="#fffdfb"/><circle r="8.5" fill="#fef6ec"/><g transform="rotate(-28.5)"><text x="30" y="-3.4" font-size="20" textLength="122" fill="#e7e7e7" style="font-weight:700">东奥会计在线</text><text x="32.5" y="13.8" font-size="13" textLength="120" fill="#ececec" style="font-weight:700">www.dongao.com</text></g></g><g transform="translate(341,90)"><circle r="24" fill="#fef6ec"/><path d="M-6,-23 Q4,-27 8,-36 Q14,-27 17,-17 Z" fill="#fef6ec"/><circle r="16.5" fill="#fffdfb"/><circle r="8.5" fill="#fef6ec"/><g transform="rotate(-28.5)"><text x="30" y="-3.4" font-size="20" textLength="122" fill="#e7e7e7" style="font-weight:700">东奥会计在线</text><text x="32.5" y="13.8" font-size="13" textLength="120" fill="#ececec" style="font-weight:700">www.dongao.com</text></g></g><g transform="translate(71,243)"><circle r="24" fill="#fef6ec"/><path d="M-6,-23 Q4,-27 8,-36 Q14,-27 17,-17 Z" fill="#fef6ec"/><circle r="16.5" fill="#fffdfb"/><circle r="8.5" fill="#fef6ec"/><g transform="rotate(-28.5)"><text x="30" y="-3.4" font-size="20" textLength="122" fill="#e7e7e7" style="font-weight:700">东奥会计在线</text><text x="32.5" y="13.8" font-size="13" textLength="120" fill="#ececec" style="font-weight:700">www.dongao.com</text></g></g><g transform="translate(246,311)"><circle r="24" fill="#fef6ec"/><path d="M-6,-23 Q4,-27 8,-36 Q14,-27 17,-17 Z" fill="#fef6ec"/><circle r="16.5" fill="#fffdfb"/><circle r="8.5" fill="#fef6ec"/><g transform="rotate(-28.5)"><text x="30" y="-3.4" font-size="20" textLength="122" fill="#e7e7e7" style="font-weight:700">东奥会计在线</text><text x="32.5" y="13.8" font-size="13" textLength="120" fill="#ececec" style="font-weight:700">www.dongao.com</text></g></g><g transform="translate(-13,466)"><circle r="24" fill="#fef6ec"/><path d="M-6,-23 Q4,-27 8,-36 Q14,-27 17,-17 Z" fill="#fef6ec"/><circle r="16.5" fill="#fffdfb"/><circle r="8.5" fill="#fef6ec"/><g transform="rotate(-28.5)"><text x="30" y="-3.4" font-size="20" textLength="122" fill="#e7e7e7" style="font-weight:700">东奥会计在线</text><text x="32.5" y="13.8" font-size="13" textLength="120" fill="#ececec" style="font-weight:700">www.dongao.com</text></g></g><g transform="translate(229,515)"><circle r="24" fill="#fef6ec"/><path d="M-6,-23 Q4,-27 8,-36 Q14,-27 17,-17 Z" fill="#fef6ec"/><circle r="16.5" fill="#fffdfb"/><circle r="8.5" fill="#fef6ec"/><g transform="rotate(-28.5)"><text x="30" y="-3.4" font-size="20" textLength="122" fill="#e7e7e7" style="font-weight:700">东奥会计在线</text><text x="32.5" y="13.8" font-size="13" textLength="120" fill="#ececec" style="font-weight:700">www.dongao.com</text></g></g><g transform="translate(410,590)"><circle r="24" fill="#fef6ec"/><path d="M-6,-23 Q4,-27 8,-36 Q14,-27 17,-17 Z" fill="#fef6ec"/><circle r="16.5" fill="#fffdfb"/><circle r="8.5" fill="#fef6ec"/><g transform="rotate(-28.5)"><text x="30" y="-3.4" font-size="20" textLength="122" fill="#e7e7e7" style="font-weight:700">东奥会计在线</text><text x="32.5" y="13.8" font-size="13" textLength="120" fill="#ececec" style="font-weight:700">www.dongao.com</text></g></g><g transform="translate(-43,665)"><circle r="24" fill="#fef6ec"/><path d="M-6,-23 Q4,-27 8,-36 Q14,-27 17,-17 Z" fill="#fef6ec"/><circle r="16.5" fill="#fffdfb"/><circle r="8.5" fill="#fef6ec"/><g transform="rotate(-28.5)"><text x="30" y="-3.4" font-size="20" textLength="122" fill="#e7e7e7" style="font-weight:700">东奥会计在线</text><text x="32.5" y="13.8" font-size="13" textLength="120" fill="#ececec" style="font-weight:700">www.dongao.com</text></g></g><g transform="translate(146,740)"><circle r="24" fill="#fef6ec"/><path d="M-6,-23 Q4,-27 8,-36 Q14,-27 17,-17 Z" fill="#fef6ec"/><circle r="16.5" fill="#fffdfb"/><circle r="8.5" fill="#fef6ec"/><g transform="rotate(-28.5)"><text x="30" y="-3.4" font-size="20" textLength="122" fill="#e7e7e7" style="font-weight:700">东奥会计在线</text><text x="32.5" y="13.8" font-size="13" textLength="120" fill="#ececec" style="font-weight:700">www.dongao.com</text></g></g><g transform="translate(388,788)"><circle r="24" fill="#fef6ec"/><path d="M-6,-23 Q4,-27 8,-36 Q14,-27 17,-17 Z" fill="#fef6ec"/><circle r="16.5" fill="#fffdfb"/><circle r="8.5" fill="#fef6ec"/><g transform="rotate(-28.5)"><text x="30" y="-3.4" font-size="20" textLength="122" fill="#e7e7e7" style="font-weight:700">东奥会计在线</text><text x="32.5" y="13.8" font-size="13" textLength="120" fill="#ececec" style="font-weight:700">www.dongao.com</text></g></g><g transform="translate(511,166)"><circle r="24" fill="#fef6ec"/><path d="M-6,-23 Q4,-27 8,-36 Q14,-27 17,-17 Z" fill="#fef6ec"/><circle r="16.5" fill="#fffdfb"/><circle r="8.5" fill="#fef6ec"/><g transform="rotate(-28.5)"><text x="30" y="-3.4" font-size="20" textLength="122" fill="#e7e7e7" style="font-weight:700">东奥会计在线</text><text x="32.5" y="13.8" font-size="13" textLength="120" fill="#ececec" style="font-weight:700">www.dongao.com</text></g></g><g transform="translate(495,358)"><circle r="24" fill="#fef6ec"/><path d="M-6,-23 Q4,-27 8,-36 Q14,-27 17,-17 Z" fill="#fef6ec"/><circle r="16.5" fill="#fffdfb"/><circle r="8.5" fill="#fef6ec"/><g transform="rotate(-28.5)"><text x="30" y="-3.4" font-size="20" textLength="122" fill="#e7e7e7" style="font-weight:700">东奥会计在线</text><text x="32.5" y="13.8" font-size="13" textLength="120" fill="#ececec" style="font-weight:700">www.dongao.com</text></g></g><g transform="translate(-110,889)"><circle r="24" fill="#fef6ec"/><path d="M-6,-23 Q4,-27 8,-36 Q14,-27 17,-17 Z" fill="#fef6ec"/><circle r="16.5" fill="#fffdfb"/><circle r="8.5" fill="#fef6ec"/><g transform="rotate(-28.5)"><text x="30" y="-3.4" font-size="20" textLength="122" fill="#e7e7e7" style="font-weight:700">东奥会计在线</text><text x="32.5" y="13.8" font-size="13" textLength="120" fill="#ececec" style="font-weight:700">www.dongao.com</text></g></g><g transform="translate(566,866)"><circle r="24" fill="#fef6ec"/><path d="M-6,-23 Q4,-27 8,-36 Q14,-27 17,-17 Z" fill="#fef6ec"/><circle r="16.5" fill="#fffdfb"/><circle r="8.5" fill="#fef6ec"/><g transform="rotate(-28.5)"><text x="30" y="-3.4" font-size="20" textLength="122" fill="#e7e7e7" style="font-weight:700">东奥会计在线</text><text x="32.5" y="13.8" font-size="13" textLength="120" fill="#ececec" style="font-weight:700">www.dongao.com</text></g></g></svg><svg x="779" y="1662" width="595" height="842" viewBox="0 0 595 842" overflow="hidden"><g transform="translate(96,51)"><circle r="24" fill="#fef6ec"/><path d="M-6,-23 Q4,-27 8,-36 Q14,-27 17,-17 Z" fill="#fef6ec"/><circle r="16.5" fill="#fffdfb"/><circle r="8.5" fill="#fef6ec"/><g transform="rotate(-28.5)"><text x="30" y="-3.4" font-size="20" textLength="122" fill="#e7e7e7" style="font-weight:700">东奥会计在线</text><text x="32.5" y="13.8" font-size="13" textLength="120" fill="#ececec" style="font-weight:700">www.dongao.com</text></g></g><g transform="translate(341,90)"><circle r="24" fill="#fef6ec"/><path d="M-6,-23 Q4,-27 8,-36 Q14,-27 17,-17 Z" fill="#fef6ec"/><circle r="16.5" fill="#fffdfb"/><circle r="8.5" fill="#fef6ec"/><g transform="rotate(-28.5)"><text x="30" y="-3.4" font-size="20" textLength="122" fill="#e7e7e7" style="font-weight:700">东奥会计在线</text><text x="32.5" y="13.8" font-size="13" textLength="120" fill="#ececec" style="font-weight:700">www.dongao.com</text></g></g><g transform="translate(71,243)"><circle r="24" fill="#fef6ec"/><path d="M-6,-23 Q4,-27 8,-36 Q14,-27 17,-17 Z" fill="#fef6ec"/><circle r="16.5" fill="#fffdfb"/><circle r="8.5" fill="#fef6ec"/><g transform="rotate(-28.5)"><text x="30" y="-3.4" font-size="20" textLength="122" fill="#e7e7e7" style="font-weight:700">东奥会计在线</text><text x="32.5" y="13.8" font-size="13" textLength="120" fill="#ececec" style="font-weight:700">www.dongao.com</text></g></g><g transform="translate(246,311)"><circle r="24" fill="#fef6ec"/><path d="M-6,-23 Q4,-27 8,-36 Q14,-27 17,-17 Z" fill="#fef6ec"/><circle r="16.5" fill="#fffdfb"/><circle r="8.5" fill="#fef6ec"/><g transform="rotate(-28.5)"><text x="30" y="-3.4" font-size="20" textLength="122" fill="#e7e7e7" style="font-weight:700">东奥会计在线</text><text x="32.5" y="13.8" font-size="13" textLength="120" fill="#ececec" style="font-weight:700">www.dongao.com</text></g></g><g transform="translate(-13,466)"><circle r="24" fill="#fef6ec"/><path d="M-6,-23 Q4,-27 8,-36 Q14,-27 17,-17 Z" fill="#fef6ec"/><circle r="16.5" fill="#fffdfb"/><circle r="8.5" fill="#fef6ec"/><g transform="rotate(-28.5)"><text x="30" y="-3.4" font-size="20" textLength="122" fill="#e7e7e7" style="font-weight:700">东奥会计在线</text><text x="32.5" y="13.8" font-size="13" textLength="120" fill="#ececec" style="font-weight:700">www.dongao.com</text></g></g><g transform="translate(229,515)"><circle r="24" fill="#fef6ec"/><path d="M-6,-23 Q4,-27 8,-36 Q14,-27 17,-17 Z" fill="#fef6ec"/><circle r="16.5" fill="#fffdfb"/><circle r="8.5" fill="#fef6ec"/><g transform="rotate(-28.5)"><text x="30" y="-3.4" font-size="20" textLength="122" fill="#e7e7e7" style="font-weight:700">东奥会计在线</text><text x="32.5" y="13.8" font-size="13" textLength="120" fill="#ececec" style="font-weight:700">www.dongao.com</text></g></g><g transform="translate(511,166)"><circle r="24" fill="#fef6ec"/><path d="M-6,-23 Q4,-27 8,-36 Q14,-27 17,-17 Z" fill="#fef6ec"/><circle r="16.5" fill="#fffdfb"/><circle r="8.5" fill="#fef6ec"/><g transform="rotate(-28.5)"><text x="30" y="-3.4" font-size="20" textLength="122" fill="#e7e7e7" style="font-weight:700">东奥会计在线</text><text x="32.5" y="13.8" font-size="13" textLength="120" fill="#ececec" style="font-weight:700">www.dongao.com</text></g></g><g transform="translate(495,358)"><circle r="24" fill="#fef6ec"/><path d="M-6,-23 Q4,-27 8,-36 Q14,-27 17,-17 Z" fill="#fef6ec"/><circle r="16.5" fill="#fffdfb"/><circle r="8.5" fill="#fef6ec"/><g transform="rotate(-28.5)"><text x="30" y="-3.4" font-size="20" textLength="122" fill="#e7e7e7" style="font-weight:700">东奥会计在线</text><text x="32.5" y="13.8" font-size="13" textLength="120" fill="#ececec" style="font-weight:700">www.dongao.com</text></g></g></svg></g>
<path d="M356.9,1412 V227 Q356.9,217.9 366,217.9 L384,218.2 L384,219.4 L368,220.6 Q362,220.8 362,227 V568.3 L384,568.7 L384,569.9 L368,570.5 Q362.6,571 362,577 V1412 Q362,1419 368,1419.4 L384,1420.9 L384,1422.1 L366,1422.3 Q356.9,1422.3 356.9,1412 Z" fill="#2b2a30"/>
<path d="M351.0,820.5H360.0" stroke="#303030" stroke-width="1" fill="none"/>
<rect x="18.9" y="757.8" width="330.7" height="125.0" rx="7" ry="7" fill="none" stroke="#F79646" stroke-width="4"/>
<text class="t" x="184.2" y="809.5" font-size="32" fill="#1a1a1a" text-anchor="middle" style="font-weight:300">第二十章</text>
<text class="t" x="184.2" y="854.5" font-size="32" fill="#1a1a1a" text-anchor="middle" style="font-weight:300">非货币性资产交换</text>
<polygon points="461.5,50.0 472.5,50.0 461.8,183.0" fill="#0B0BF5"/>
<rect x="384.0" y="15.0" width="177.7" height="37.0" rx="5" ry="5" fill="#0B0BF5"/>
<text x="398.0" y="40.5" font-size="19" fill="#fff" textLength="149.7" lengthAdjust="spacing">2016-2020客观题</text>
<rect x="384.0" y="184.0" width="149.0" height="70.0" rx="4" ry="4" fill="#FF9640"/>
<text class="m" x="397.6" y="213.2" font-size="20" fill="#3a2a20">非货币性资产</text>
<text class="m" x="397.6" y="239.7" font-size="20" fill="#3a2a20">交换的概念<tspan font-size="16" dy="-0.5">★</tspan></text>
<rect x="384.0" y="534.5" width="186.0" height="69.5" rx="4" ry="4" fill="#FF9640"/>
<text class="m" x="397.6" y="563.7" font-size="20" fill="#3a2a20">非货币性资产交换</text>
<text class="m" x="397.6" y="590.2" font-size="20" fill="#3a2a20">的确认和计量<tspan font-size="16" dy="-0.5">★</tspan></text>
<rect x="384.0" y="1373.0" width="137.6" height="96.7" rx="4" ry="4" fill="#FF9640"/>
<text class="m" x="397.6" y="1401.5" font-size="20" fill="#3a2a20">非货币性资</text>
<text class="m" x="397.6" y="1428.9" font-size="20" fill="#3a2a20">产交换的会</text>
<text class="m" x="397.6" y="1456.2" font-size="20" fill="#3a2a20">计处理<tspan font-size="16" dy="-0.5">★★★</tspan></text>
<path d="M533.0,219.5H538.0" stroke="#303030" stroke-width="1" fill="none"/>
<path d="M537.5,91.0V349.0" stroke="#303030" stroke-width="1" fill="none"/>
<path d="M537.0,91.5H861.0" stroke="#303030" stroke-width="1" fill="none"/>
<path d="M537.0,141.5H937.0" stroke="#303030" stroke-width="1" fill="none"/>
<path d="M537.0,228.5H937.0" stroke="#303030" stroke-width="1" fill="none"/>
<path d="M537.0,278.5H700.0" stroke="#303030" stroke-width="1" fill="none"/>
<path d="M537.0,348.5H686.0" stroke="#303030" stroke-width="1" fill="none"/>
<text class="b" x="564.0" y="83.4" font-size="15" fill="#404040">货币性资产：现金、银行存款、应收账款等</text>
<text class="b" x="564.0" y="113.3" font-size="15" fill="#404040">非货币性资产：固定资产、无形资产、投资性房地产、</text>
<text class="b" x="564.0" y="133.3" font-size="15" fill="#404040">长期股权投资等</text>
<rect x="553.3" y="143.3" width="223.3" height="34.5" rx="5" ry="5" fill="#E66E0C"/>
<text x="564.0" y="166.5" font-size="16" fill="#fff">预付账款属于非货币性资产</text>
<text class="b" x="564.0" y="200.4" font-size="15" fill="#404040" textLength="349.5" lengthAdjust="spacing">非货币性资产交换：企业以非货币性资产进行的交换,</text>
<text class="b" x="564.0" y="220.4" font-size="15" fill="#404040">该交换不涉及或只涉及少量的货币性资产（即补价）</text>
<text class="b" x="564.0" y="249.8" font-size="15" fill="#404040">非货币性资产交换</text>
<text class="b" x="564.0" y="269.8" font-size="15" fill="#404040">的认定</text>
<path d="M699.5,278.5V267.5Q699.5,263.5 703.5,263.5H904.0" stroke="#303030" stroke-width="1" fill="none"/>
<path d="M699.5,278.5V289.5Q699.5,293.5 703.5,293.5H1073.0" stroke="#303030" stroke-width="1" fill="none"/>
<text class="b" x="726.7" y="255.0" font-size="15" fill="#404040">交换的都是非货币性资产</text>
<text class="b" x="726.7" y="284.8" font-size="15" fill="#404040" textLength="330.9" lengthAdjust="spacing">若涉及货币性补价：补价<tspan class="a">/</tspan>最大资产公允价值<tspan class="a">&lt;25%</tspan></text>
<text class="b" x="564.0" y="320.4" font-size="15" fill="#404040">特殊交易和事项</text>
<text class="b" x="564.0" y="340.4" font-size="15" fill="#404040">的处理原则</text>
<path d="M685.5,348.5V327.5Q685.5,323.5 689.5,323.5H1009.0" stroke="#303030" stroke-width="1" fill="none"/>
<path d="M685.5,348.5V369.5Q685.5,373.5 689.5,373.5H964.0" stroke="#303030" stroke-width="1" fill="none"/>
<text class="b" x="711.8" y="315.0" font-size="15" fill="#404040">换出资产为存货的，以收入准则为基础计量</text>
<text class="b" x="711.8" y="345.3" font-size="15" fill="#404040">交换涉及企业合并、金融资产、租</text>
<text class="b" x="711.8" y="365.3" font-size="15" fill="#404040">赁，分别按对应的准则进行会计处理</text>
<path d="M570.0,569.5H575.0" stroke="#303030" stroke-width="1" fill="none"/>
<path d="M574.5,477.0V663.0" stroke="#303030" stroke-width="1" fill="none"/>
<path d="M574.0,477.5H647.0" stroke="#303030" stroke-width="1" fill="none"/>
<path d="M574.0,592.5H647.0" stroke="#303030" stroke-width="1" fill="none"/>
<path d="M574.0,662.5H677.0" stroke="#303030" stroke-width="1" fill="none"/>
<text class="b" x="600.7" y="449.3" font-size="15" fill="#404040">确认</text>
<text class="b" x="600.7" y="469.3" font-size="15" fill="#404040">原则</text>
<path d="M646.5,477.5V441.5Q646.5,437.5 650.5,437.5H720.0" stroke="#303030" stroke-width="1" fill="none"/>
<path d="M646.5,477.5V513.5Q646.5,517.5 650.5,517.5H720.0" stroke="#303030" stroke-width="1" fill="none"/>
<text class="b" x="673.8" y="409.6" font-size="15" fill="#404040">换入</text>
<text class="b" x="673.8" y="429.6" font-size="15" fill="#404040">资产</text>
<path d="M719.5,437.5V416.5Q719.5,412.5 723.5,412.5H1029.0" stroke="#303030" stroke-width="1" fill="none"/>
<path d="M719.5,437.5V458.5Q719.5,462.5 723.5,462.5H1105.0" stroke="#303030" stroke-width="1" fill="none"/>
<text class="b" x="747.0" y="404.3" font-size="15" fill="#404040">符合资产定义且满足确认条件时予以确认</text>
<text class="b" x="747.0" y="434.2" font-size="15" fill="#404040">换入资产尚未满足资产确认条件，换出资产满足终止</text>
<text class="b" x="747.0" y="454.2" font-size="15" fill="#404040">确认条件的，将取得换入资产的权利确认为一项资产</text>
<text class="b" x="673.8" y="488.8" font-size="15" fill="#404040">换出</text>
<text class="b" x="673.8" y="508.8" font-size="15" fill="#404040">资产</text>
<path d="M719.5,517.5V496.5Q719.5,492.5 723.5,492.5H984.0" stroke="#303030" stroke-width="1" fill="none"/>
<path d="M719.5,517.5V538.5Q719.5,542.5 723.5,542.5H1105.0" stroke="#303030" stroke-width="1" fill="none"/>
<text class="b" x="747.0" y="484.4" font-size="15" fill="#404040">满足资产终止确认条件时终止确认</text>
<text class="b" x="747.0" y="513.8" font-size="15" fill="#404040">换入资产满足资产确认条件，换出资产尚未满足终止</text>
<text class="b" x="747.0" y="533.8" font-size="15" fill="#404040">确认条件的，将交付换出资产的义务确认为一项负债</text>
<text class="b" x="600.7" y="564.2" font-size="15" fill="#404040">计量</text>
<text class="b" x="600.7" y="584.2" font-size="15" fill="#404040">原则</text>
<path d="M646.5,592.5V581.5Q646.5,577.5 650.5,577.5H746.0" stroke="#303030" stroke-width="1" fill="none"/>
<path d="M646.5,592.5V603.5Q646.5,607.5 650.5,607.5H746.0" stroke="#303030" stroke-width="1" fill="none"/>
<text class="b" x="673.8" y="569.3" font-size="15" fill="#404040">公允价值</text>
<text class="b" x="673.8" y="599.0" font-size="15" fill="#404040">账面价值</text>
<text class="b" x="600.7" y="634.2" font-size="15" fill="#404040">商业实质</text>
<text class="b" x="600.7" y="654.2" font-size="15" fill="#404040">的判断</text>
<path d="M676.5,662.5V641.5Q676.5,637.5 680.5,637.5H1076.0" stroke="#303030" stroke-width="1" fill="none"/>
<path d="M676.5,662.5V683.5Q676.5,687.5 680.5,687.5H1016.0" stroke="#303030" stroke-width="1" fill="none"/>
<text class="b" x="703.6" y="628.8" font-size="15" fill="#404040">换入资产的未来现金流量在风险、时间分布或金额不同</text>
<text class="b" x="703.6" y="658.8" font-size="15" fill="#404040">换入资产与换出资产的预计未来现金流量现值</text>
<text class="b" x="703.6" y="678.8" font-size="15" fill="#404040">不同，且其差额与公允价值相比是重大的</text>
<path d="M521.0,1422.5H527.0" stroke="#303030" stroke-width="1" fill="none"/>
<path d="M526.5,954.0V1892.0" stroke="#303030" stroke-width="1" fill="none"/>
<path d="M526.0,954.5H644.0" stroke="#303030" stroke-width="1" fill="none"/>
<path d="M526.0,1358.5H644.0" stroke="#303030" stroke-width="1" fill="none"/>
<path d="M526.0,1891.5H659.0" stroke="#303030" stroke-width="1" fill="none"/>
<text class="b" x="553.0" y="906.2" font-size="15" fill="#404040">以公允价值</text>
<text class="b" x="553.0" y="926.2" font-size="15" fill="#404040">为基础计量</text>
<text class="b" x="553.0" y="946.2" font-size="15" fill="#404040">的会计处理</text>
<path d="M643.5,954.5V756.5Q643.5,752.5 647.5,752.5H807.0" stroke="#303030" stroke-width="1" fill="none"/>
<path d="M643.5,954.5V930.5Q643.5,926.5 647.5,926.5H777.0" stroke="#303030" stroke-width="1" fill="none"/>
<path d="M643.5,954.5V1154.5Q643.5,1158.5 647.5,1158.5H732.0" stroke="#303030" stroke-width="1" fill="none"/>
<text class="b" x="671.2" y="743.8" font-size="15" fill="#404040">条件（同时满足）</text>
<path d="M806.5,752.5V730.5Q806.5,726.5 810.5,726.5H937.0" stroke="#303030" stroke-width="1" fill="none"/>
<path d="M806.5,752.5V772.5Q806.5,776.5 810.5,776.5H997.0" stroke="#303030" stroke-width="1" fill="none"/>
<text class="b" x="834.0" y="717.8" font-size="15" fill="#404040">具有商业实质</text>
<text class="b" x="834.0" y="747.8" font-size="15" fill="#404040">换入资产或换出资产的</text>
<text class="b" x="834.0" y="767.8" font-size="15" fill="#404040">公允价值能够可靠计量</text>
<text class="b" x="671.2" y="898.0" font-size="15" fill="#404040">换入资产入账</text>
<text class="b" x="671.2" y="918.0" font-size="15" fill="#404040">价值的确定</text>
<path d="M776.5,926.5V895.5Q776.5,891.5 780.5,891.5H1127.0" stroke="#303030" stroke-width="1" fill="none"/>
<path d="M776.5,926.5V957.5Q776.5,961.5 780.5,961.5H1201.0" stroke="#303030" stroke-width="1" fill="none"/>
<text class="b" x="803.7" y="863.4" font-size="15" fill="#404040">不涉及补价：</text>
<text class="b" x="803.7" y="883.4" font-size="15" fill="#404040" textLength="310.5" lengthAdjust="spacing">换出资产公允价值<tspan class="a">+</tspan>为换入资产支付的相关税费</text>
<text class="b" x="803.7" y="913.2" font-size="15" fill="#404040">涉及补价：</text>
<text class="b" x="803.7" y="933.2" font-size="15" fill="#404040" textLength="381.0" lengthAdjust="spacing">换出资产公允价值<tspan class="a">+</tspan>为换入资产支付的相关税费<tspan class="a">+</tspan>支付补价</text>
<text class="b" x="803.7" y="953.2" font-size="15" fill="#404040" textLength="246.0" lengthAdjust="spacing">的公允价值（<tspan class="a">-</tspan>收到补价的公允价值）</text>
<text class="b" x="671.2" y="1130.0" font-size="15" fill="#404040">账务处</text>
<text class="b" x="671.2" y="1150.0" font-size="15" fill="#404040">理原则</text>
<path d="M731.5,1158.5V1090.5Q731.5,1086.5 735.5,1086.5H835.0" stroke="#303030" stroke-width="1" fill="none"/>
<path d="M731.5,1158.5V1227.5Q731.5,1231.5 735.5,1231.5H831.0" stroke="#303030" stroke-width="1" fill="none"/>
<text class="b" x="758.4" y="1058.3" font-size="15" fill="#404040">换出资产</text>
<text class="b" x="758.4" y="1078.3" font-size="15" fill="#404040">视同处置</text>
<path d="M834.5,1086.5V995.5Q834.5,991.5 838.5,991.5H1144.0" stroke="#303030" stroke-width="1" fill="none"/>
<path d="M834.5,1086.5V1045.5Q834.5,1041.5 838.5,1041.5H1202.0" stroke="#303030" stroke-width="1" fill="none"/>
<path d="M834.5,1086.5V1107.5Q834.5,1111.5 838.5,1111.5H1242.0" stroke="#303030" stroke-width="1" fill="none"/>
<path d="M834.5,1086.5V1177.5Q834.5,1181.5 838.5,1181.5H1235.0" stroke="#303030" stroke-width="1" fill="none"/>
<text class="b" x="861.6" y="983.1" font-size="15" fill="#404040">存货：确认销售收入，同时结转销售成本</text>
<text class="b" x="861.6" y="1013.0" font-size="15" fill="#404040">固定资产、无形资产：</text>
<text class="b" x="861.6" y="1033.0" font-size="15" fill="#404040">公允价值与账面价值的差额，计入资产处置损益</text>
<text class="b" x="861.6" y="1063.0" font-size="15" fill="#404040">长期股权投资（或金融资产）：</text>
<text class="b" x="861.6" y="1083.0" font-size="15" fill="#404040">公允价值与账面价值的差额，计入投资收益等，其他综</text>
<text class="b" x="861.6" y="1103.0" font-size="15" fill="#404040">合收益、资本公积同时结转</text>
<text class="b" x="861.6" y="1133.0" font-size="15" fill="#404040">投资性房地产：</text>
<text class="b" x="861.6" y="1153.0" font-size="15" fill="#404040">公允价值确认其他业务收入，账面价值结转其他业务成</text>
<text class="b" x="861.6" y="1173.0" font-size="15" fill="#404040">本，公允价值变动损益、其他综合收益同时结转</text>
<text class="b" x="758.4" y="1202.8" font-size="15" fill="#404040">换入资产</text>
<text class="b" x="758.4" y="1222.8" font-size="15" fill="#404040">视同购入</text>
<polygon points="806.2,830.0 816.0,830.0 752.0,876.8" fill="#E66E0C"/>
<rect x="660.3" y="777.5" width="388.7" height="54.5" rx="5" ry="5" fill="#E66E0C"/>
<text x="671.5" y="801.2" font-size="16" fill="#fff">若换入资产的公允价值更加可靠，应当以换入资产</text>
<text x="671.5" y="820.2" font-size="16" fill="#fff">公允价值为基础确定换入资产的价值</text>
<text class="b" x="553.0" y="1309.8" font-size="15" fill="#404040">以账面价值</text>
<text class="b" x="553.0" y="1329.8" font-size="15" fill="#404040">为基础计量</text>
<text class="b" x="553.0" y="1349.8" font-size="15" fill="#404040">的会计处理</text>
<path d="M643.5,1358.5V1280.5Q643.5,1276.5 647.5,1276.5H822.0" stroke="#303030" stroke-width="1" fill="none"/>
<path d="M643.5,1358.5V1360.5Q643.5,1356.5 647.5,1356.5H777.0" stroke="#303030" stroke-width="1" fill="none"/>
<path d="M643.5,1358.5V1437.5Q643.5,1441.5 647.5,1441.5H1086.0" stroke="#303030" stroke-width="1" fill="none"/>
<text class="b" x="671.2" y="1267.8" font-size="15" fill="#404040">条件（不同时满足）</text>
<path d="M821.5,1276.5V1265.5Q821.5,1261.5 825.5,1261.5H967.0" stroke="#303030" stroke-width="1" fill="none"/>
<path d="M821.5,1276.5V1287.5Q821.5,1291.5 825.5,1291.5H1177.0" stroke="#303030" stroke-width="1" fill="none"/>
<text class="b" x="849.0" y="1252.8" font-size="15" fill="#404040">不具有商业实质</text>
<text class="b" x="849.0" y="1283.0" font-size="15" fill="#404040">换入资产和换出资产的公允价值均无法可靠计量</text>
<text class="b" x="671.2" y="1327.8" font-size="15" fill="#404040">换入资产入账</text>
<text class="b" x="671.2" y="1347.8" font-size="15" fill="#404040">价值的确定</text>
<path d="M776.5,1356.5V1326.5Q776.5,1322.5 780.5,1322.5H1217.0" stroke="#303030" stroke-width="1" fill="none"/>
<path d="M776.5,1356.5V1387.5Q776.5,1391.5 780.5,1391.5H1153.0" stroke="#303030" stroke-width="1" fill="none"/>
<text class="b" x="803.7" y="1313.8" font-size="15" fill="#404040" textLength="400.5" lengthAdjust="spacing">不涉及补价：换出资产账面价值<tspan class="a">+</tspan>为换入资产支付的相关税费</text>
<text class="b" x="803.7" y="1343.3" font-size="15" fill="#404040">涉及补价：</text>
<text class="b" x="803.7" y="1363.3" font-size="15" fill="#404040" textLength="336.0" lengthAdjust="spacing">换出资产账面价值<tspan class="a">+</tspan>为换入资产支付的相关税费<tspan class="a">+</tspan>支</text>
<text class="b" x="803.7" y="1383.3" font-size="15" fill="#404040" textLength="291.0" lengthAdjust="spacing">付补价的账面价值（<tspan class="a">-</tspan>收到补价的公允价值）</text>
<text class="b" x="671.2" y="1413.1" font-size="15" fill="#404040">账务处</text>
<text class="b" x="671.2" y="1433.1" font-size="15" fill="#404040">理原则</text>
<text class="b" x="758.4" y="1433.1" font-size="15" fill="#404040">换出资产按账面价值结转，不确认资产处置损益</text>
<text class="b" x="553.0" y="1843.4" font-size="15" fill="#404040">涉及多项非货</text>
<text class="b" x="553.0" y="1863.4" font-size="15" fill="#404040">币性资产交换</text>
<text class="b" x="553.0" y="1883.4" font-size="15" fill="#404040">的会计处理</text>
<path d="M658.5,1891.5V1766.5Q658.5,1762.5 662.5,1762.5H777.0" stroke="#303030" stroke-width="1" fill="none"/>
<path d="M658.5,1891.5V2016.5Q658.5,2020.5 662.5,2020.5H792.0" stroke="#303030" stroke-width="1" fill="none"/>
<text class="b" x="686.0" y="1734.2" font-size="15" fill="#404040">以公允价值</text>
<text class="b" x="686.0" y="1754.2" font-size="15" fill="#404040">为基础计量</text>
<path d="M776.5,1762.5V1729.5Q776.5,1725.5 780.5,1725.5H880.0" stroke="#303030" stroke-width="1" fill="none"/>
<path d="M776.5,1762.5V1796.5Q776.5,1800.5 780.5,1800.5H1025.0" stroke="#303030" stroke-width="1" fill="none"/>
<text class="b" x="804.0" y="1677.3" font-size="15" fill="#404040">换入资产</text>
<text class="b" x="804.0" y="1697.3" font-size="15" fill="#404040">入账价值</text>
<text class="b" x="804.0" y="1717.3" font-size="15" fill="#404040">的确定</text>
<path d="M879.5,1725.5V1703.5Q879.5,1699.5 883.5,1699.5H1264.0" stroke="#303030" stroke-width="1" fill="none"/>
<path d="M879.5,1725.5V1746.5Q879.5,1750.5 883.5,1750.5H1264.0" stroke="#303030" stroke-width="1" fill="none"/>
<text class="b" x="905.8" y="1611.4" font-size="15" fill="#404040">不涉及补价：按照换入的金融资产以外的各项资产公</text>
<text class="b" x="905.8" y="1631.4" font-size="15" fill="#404040">允价值的相对比例，将换出资产公允价值总额扣除换</text>
<text class="b" x="905.8" y="1651.4" font-size="15" fill="#404040">入金融资产公允价值后的净额进行分摊，以分摊至各</text>
<text class="b" x="905.8" y="1671.4" font-size="15" fill="#404040">项换入资产的金额，加上应支付的相关税费，作为各</text>
<text class="b" x="905.8" y="1691.4" font-size="15" fill="#404040">项换入资产的成本进行初始计量</text>
<text class="b" x="905.8" y="1722.5" font-size="15" fill="#404040">涉及补价：应在换出资产的公允价值总额的基础上加</text>
<text class="b" x="905.8" y="1742.5" font-size="15" fill="#404040">上支付补价的公允价值或减去收到补价的公允价值</text>
<text class="b" x="804.0" y="1771.8" font-size="15" fill="#404040">账务处</text>
<text class="b" x="804.0" y="1791.8" font-size="15" fill="#404040">理原则</text>
<text class="b" x="891.3" y="1791.8" font-size="15" fill="#404040">换出资产视同处置</text>
<text class="b" x="686.0" y="1992.3" font-size="15" fill="#404040">以账面价值为</text>
<text class="b" x="686.0" y="2012.3" font-size="15" fill="#404040">基础计量</text>
<path d="M791.5,2020.5V1993.5Q791.5,1989.5 795.5,1989.5H895.0" stroke="#303030" stroke-width="1" fill="none"/>
<path d="M791.5,2020.5V2049.5Q791.5,2053.5 795.5,2053.5H1040.0" stroke="#303030" stroke-width="1" fill="none"/>
<text class="b" x="818.8" y="1941.0" font-size="15" fill="#404040">换入资产</text>
<text class="b" x="818.8" y="1961.0" font-size="15" fill="#404040">入账价值</text>
<text class="b" x="818.8" y="1981.0" font-size="15" fill="#404040">的确定</text>
<path d="M894.5,1989.5V1958.5Q894.5,1954.5 898.5,1954.5H1309.0" stroke="#303030" stroke-width="1" fill="none"/>
<path d="M894.5,1989.5V2020.5Q894.5,2024.5 898.5,2024.5H1250.0" stroke="#303030" stroke-width="1" fill="none"/>
<text class="b" x="920.9" y="1906.0" font-size="15" fill="#404040">不涉及补价：按照各项换入资产公允价值的相对比例，将</text>
<text class="b" x="920.9" y="1926.0" font-size="15" fill="#404040">换出资产账面价值总额分摊至各项换入资产，加上应支付</text>
<text class="b" x="920.9" y="1946.0" font-size="15" fill="#404040">的相关税费，作为各项换入资产的成本进行初始计量</text>
<text class="b" x="920.9" y="1976.0" font-size="15" fill="#404040">涉及补价：</text>
<text class="b" x="920.9" y="1996.0" font-size="15" fill="#404040">应在换出资产账面价值总额的基础上加上支付补</text>
<text class="b" x="920.9" y="2016.0" font-size="15" fill="#404040">价的账面价值或减去收到补价的公允价值</text>
<text class="b" x="818.8" y="2045.5" font-size="15" fill="#404040">账务处理原则</text>
<text class="b" x="951.6" y="2045.5" font-size="15" fill="#404040">不确认损益</text>
<polygon points="964.8,1494.0 975.6,1494.0 859.6,1654.8" fill="#E66E0C"/>
<rect x="793.4" y="1442.8" width="404.3" height="53.2" rx="5" ry="5" fill="#E66E0C"/>
<text x="804.5" y="1465.9" font-size="16" fill="#fff">若换入资产的公允价值更加可靠，应当以各项换入资</text>
<text x="804.5" y="1484.9" font-size="16" fill="#fff">产公允价值为基础作为各项换入资产的初始计量金额</text>
<polygon points="1080.8,1578.0 1093.0,1578.0 1081.0,1593.6" fill="#E66E0C"/>
<rect x="902.3" y="1508.0" width="355.7" height="72.3" rx="5" ry="5" fill="#E66E0C"/>
<text x="913.5" y="1531.1" font-size="16" fill="#fff">若换入资产的公允价值不能可靠计量，则以换</text>
<text x="913.5" y="1550.1" font-size="16" fill="#fff">入的金融资产以外的各项换入资产账面价值相</text>
<text x="913.5" y="1569.1" font-size="16" fill="#fff">对比例为基础分摊</text>
<polygon points="1109.9,1872.0 1122.5,1872.0 1110.3,1888.5" fill="#E66E0C"/>
<rect x="957.2" y="1801.8" width="305.7" height="72.5" rx="5" ry="5" fill="#E66E0C"/>
<text x="968.5" y="1825.0" font-size="16" fill="#fff">若换入资产的公允价值不能可靠计量，</text>
<text x="968.5" y="1844.0" font-size="16" fill="#fff">则以各项换入资产账面价值相对比例为</text>
<text x="968.5" y="1863.0" font-size="16" fill="#fff">基础分摊</text>
</svg>
</body></html>
